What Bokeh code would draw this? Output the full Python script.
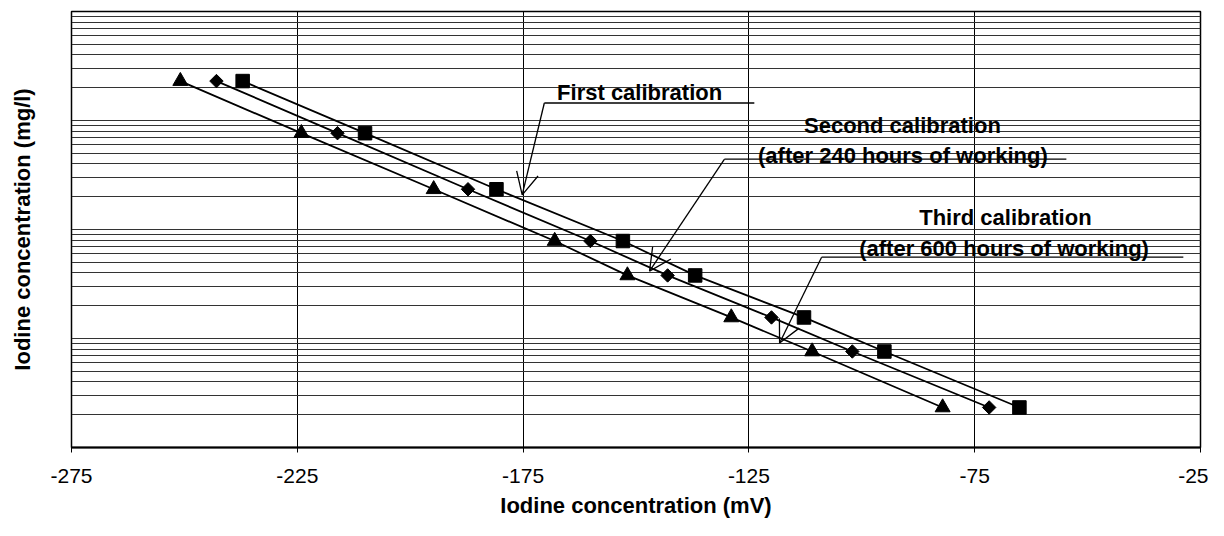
import numpy as np
from bokeh.plotting import figure
from bokeh.models import Range1d, FixedTicker, Label, Arrow, OpenHead
from bokeh.embed import file_html
from bokeh.resources import INLINE

# ---- data ----
conc_mg_l = [23.0, 7.65, 2.34, 0.784, 0.379, 0.156, 0.076, 0.0233]
first_mv = [-237.1, -210.0, -180.9, -152.9, -136.9, -112.8, -95.0, -65.1]
second_mv = [-242.9, -216.1, -187.2, -160.1, -143.0, -120.0, -102.1, -71.8]
third_mv = [-250.9, -224.1, -194.8, -168.0, -151.9, -128.9, -111.0, -82.1]
x_ticks = [-275, -225, -175, -125, -75, -25]
x_tick_labels = ["-275", "-225", "-175", "-125", "-75", "-25"]

# annotation texts and anchors (data coordinates)
ann_texts = ["First calibration", "Second calibration", "(after 240 hours of working)",
             "Third calibration", "(after 600 hours of working)"]
ann_x = [-149.2, -91.0, -90.9, -68.2, -68.5]
ann_y = [18.0, 9.06, 4.82, 1.275, 0.665]
# leader lines: horizontal underline (x1, x2, y) and arrow tip (xt, yt)
lead_x1 = [-170.3, -130.4, -108.9]
lead_x2 = [-123.8, -54.7, -28.8]
lead_y = [14.47, 4.43, 0.557]
tip_x = [-175.2, -147.0, -118.2]
tip_y = [2.08, 0.415, 0.0908]

FONT = "Liberation Sans"

p = figure(width=1208, height=520, output_backend="svg", toolbar_location=None,
           y_axis_type="log", x_range=Range1d(-275, -25), y_range=Range1d(0.01, 100),
           min_border_left=71, min_border_right=8, min_border_top=11, min_border_bottom=71)
p.background_fill_color = "white"
p.border_fill_color = "white"
p.outline_line_color = "black"
p.outline_line_width = 1.5

# x axis
p.xaxis.ticker = FixedTicker(ticks=x_ticks)
p.xaxis.major_label_overrides = {t: s for t, s in zip(x_ticks, x_tick_labels)}
p.xaxis.major_label_text_font = FONT
p.xaxis.major_label_text_font_size = "21px"
p.xaxis.major_label_text_color = "black"
p.xaxis.major_tick_out = 5
p.xaxis.major_tick_in = 0
p.xaxis.minor_tick_line_color = None
p.xaxis.axis_line_width = 2
p.xaxis.axis_line_color = "black"
p.xaxis.major_tick_line_color = "black"
p.xaxis.major_label_standoff = 16
p.xaxis.axis_label = "Iodine concentration (mV)"
p.xaxis.axis_label_text_font = FONT
p.xaxis.axis_label_text_font_style = "bold"
p.xaxis.axis_label_text_font_size = "22px"
p.xaxis.axis_label_text_color = "black"
p.xaxis.axis_label_standoff = 7

# y axis (log, gridlines at every 1..9 x 10^n, no labels)
y_grid_ticks = [k * 10.0 ** d for d in range(-2, 2) for k in range(1, 10)] + [100.0]
p.yaxis.ticker = FixedTicker(ticks=[])
p.yaxis.major_label_standoff = 0
p.yaxis.major_tick_out = 0
p.yaxis.major_tick_in = 0
p.yaxis.minor_tick_line_color = None
p.yaxis.major_tick_line_color = None
p.yaxis.axis_line_color = "black"
p.yaxis.axis_label = "Iodine concentration (mg/l)"
p.yaxis.axis_label_text_font = FONT
p.yaxis.axis_label_text_font_style = "bold"
p.yaxis.axis_label_text_font_size = "22px"
p.yaxis.axis_label_text_color = "black"
p.yaxis.axis_label_standoff = 37

p.xgrid.ticker = FixedTicker(ticks=x_ticks)
p.xgrid.grid_line_color = "black"
p.xgrid.grid_line_width = 1
p.ygrid.ticker = FixedTicker(ticks=y_grid_ticks)
p.ygrid.grid_line_color = "#333333"
p.ygrid.grid_line_width = 1

# series
for xs in (first_mv, second_mv, third_mv):
    p.line(xs, conc_mg_l, line_color="black", line_width=1.8)

p.scatter(first_mv, conc_mg_l, marker="square", size=13.5, fill_color="black", line_color="black")
p.scatter(second_mv, conc_mg_l, marker="square", size=9.5, angle=np.pi / 4,
          fill_color="black", line_color="black")
p.scatter(third_mv, conc_mg_l, marker="triangle", size=15, fill_color="black", line_color="black")

# annotations
for t, x, y in zip(ann_texts, ann_x, ann_y):
    p.add_layout(Label(x=x, y=y, text=t, text_align="center", text_baseline="alphabetic",
                       text_font=FONT, text_font_style="bold", text_font_size="22px",
                       text_color="black"))

for x1, x2, y, xt, yt in zip(lead_x1, lead_x2, lead_y, tip_x, tip_y):
    p.line([x1, x2], [y, y], line_color="black", line_width=1.3)
    p.add_layout(Arrow(end=OpenHead(size=22, line_width=1.3, line_color="black"),
                       x_start=x1, y_start=y, x_end=xt, y_end=yt,
                       line_width=1.3, line_color="black"))

open("out.html", "w").write(file_html(p, INLINE))
